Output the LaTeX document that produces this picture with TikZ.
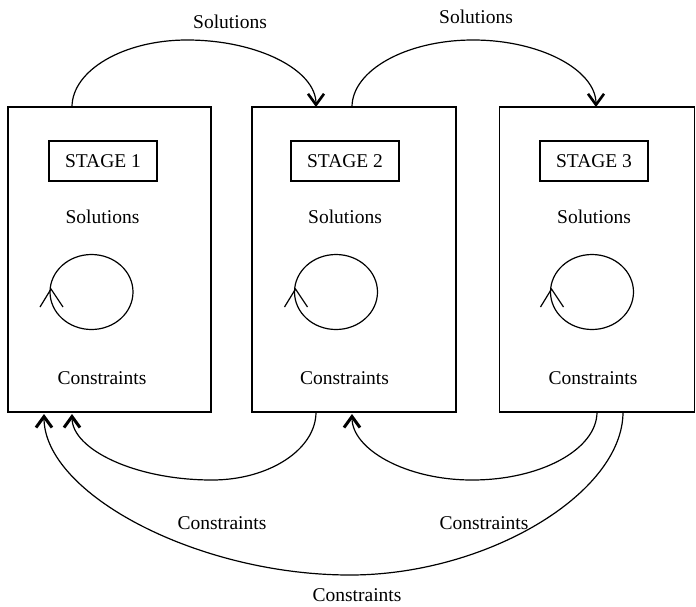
\documentclass[tikz,border=0pt]{standalone}
\usepackage{fontspec}
\setmainfont{Liberation Serif}
\usetikzlibrary{arrows.meta,calc}
\begin{document}
\begin{tikzpicture}[x=1pt,y=-1pt,
  every node/.style={font=\fontsize{19.5}{23}\selectfont, inner sep=0pt, outer sep=0pt},
  stagebox/.style={draw, line width=1.6pt, minimum height=305pt},
  stagelabel/.style={draw, line width=1.4pt, minimum width=108pt, minimum height=40pt},
  flow/.style={line width=1.2pt},
  topflow/.style={flow, -{Straight Barb[length=11pt,width=16pt,line width=2.6pt]}},
  botflow/.style={flow, -{Straight Barb[length=11pt,width=16pt,line width=3pt]}},
]
\useasboundingbox (0,0) rectangle (696,606);

% main boxes
\node[stagebox, minimum width=203pt] (box1) at (109.5,259.5) {};
\node[stagebox, minimum width=204pt] (box2) at (354,259.5) {};
\node[stagebox, minimum width=195pt] (box3) at (597,259.5) {};

% stage labels
\node[stagelabel] (st1) at (103,161) {STAGE 1};
\node[stagelabel] (st2) at (345,161) {STAGE 2};
\node[stagelabel] (st3) at (594,161) {STAGE 3};

% inner texts
\node (so1) at (102.5,217) {Solutions};
\node (so2) at (345,217) {Solutions};
\node (so3) at (594,217) {Solutions};
\node (co1) at (102,378) {Constraints};
\node (co2) at (344.5,378) {Constraints};
\node (co3) at (593,378) {Constraints};

% loops
\foreach \n/\cx in {1/91.5, 2/336, 3/592} {
  \draw[line width=1.2pt] (\cx,292) ellipse [x radius=41.5, y radius=37.5];
  \coordinate (tip\n) at (\cx-40.5,289);
  \draw[line width=1.2pt] ($(tip\n)+(-11,18)$) -- (tip\n) -- ($(tip\n)+(12,18)$);
}

% end points of connectors
\coordinate (a1s) at (72,107);
\coordinate (a1e) at (316,107);
\coordinate (a2s) at (352,107);
\coordinate (a2e) at (596,107);
\coordinate (b1s) at (316,412);
\coordinate (b1e) at (72,414);
\coordinate (b2s) at (597,412);
\coordinate (b2e) at (352,414);
\coordinate (b3s) at (623,412);
\coordinate (b3e) at (44,414);

% top connectors
\draw[topflow] (a1s) .. controls (72,70.2) and (123.8,40) .. (187,40)
  .. controls (258,40) and (316,70.2) .. (a1e);
\draw[topflow] (a2s) .. controls (352,70.2) and (406.5,40) .. (473,40)
  .. controls (540.7,40) and (596,70.2) .. (a2e);

% bottom connectors
\draw[botflow] (b1s) .. controls (316,449.4) and (269.2,480) .. (212,480)
  .. controls (135,480) and (72,449.4) .. (b1e);
\draw[botflow] (b2s) .. controls (597,449.4) and (540.75,480) .. (472,480)
  .. controls (406,480) and (352,449.4) .. (b2e);
\draw[botflow] (b3s) .. controls (623,493.5) and (486.5,575) .. (350,575)
  .. controls (197,575) and (44,493.5) .. (b3e);

% connector labels
\node (ls1) at (230,22) {Solutions};
\node (ls2) at (476,17) {Solutions};
\node (lc1) at (222,523) {Constraints};
\node (lc2) at (484,523) {Constraints};
\node (lc3) at (357,595) {Constraints};
\end{tikzpicture}
\end{document}
